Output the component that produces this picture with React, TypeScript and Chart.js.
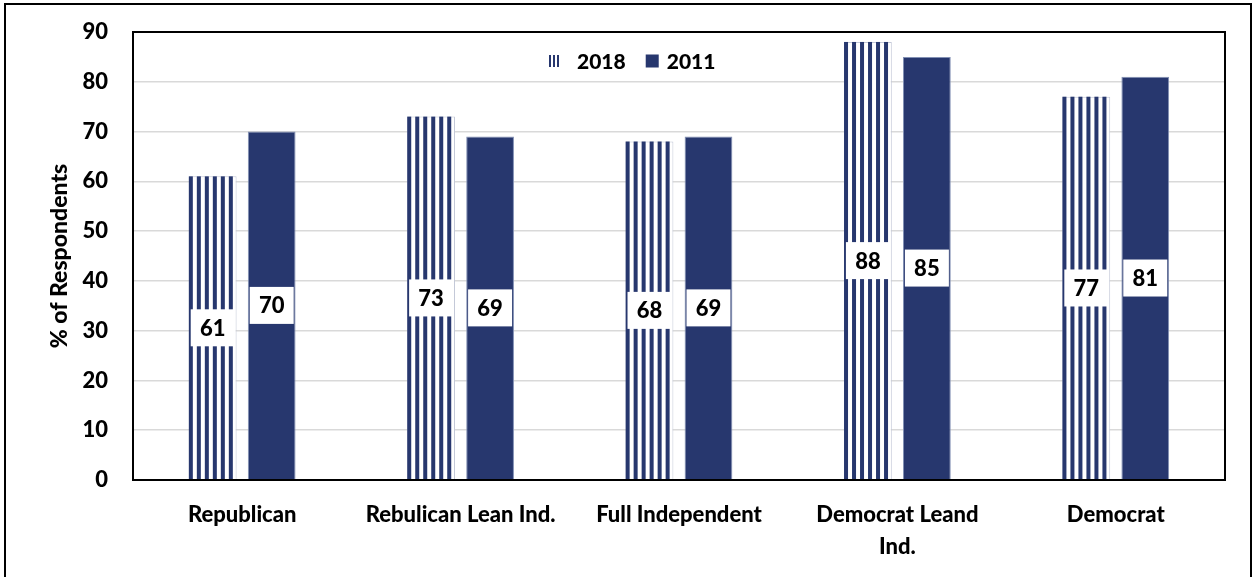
import React, { useEffect, useRef } from "react";
import { Chart, registerables } from "chart.js";

Chart.register(...registerables);

const categories: (string | string[])[] = [
  "Republican",
  "Rebulican Lean Ind.",
  "Full Independent",
  ["Democrat Leand", "Ind."],
  "Democrat",
];
const series2018: number[] = [61, 73, 68, 88, 77];
const series2011: number[] = [70, 69, 69, 85, 81];
const seriesNames: string[] = ["2018", "2011"];
const yTicks = { min: 0, max: 90, step: 10 };
const yTitle = "% of Respondents";

const NAVY = "#27376E";
const FONT = "Lato, 'Open Sans', sans-serif";
const W = 900;

const stripesAndLabels = {
  id: "stripesAndLabels",
  afterDatasetsDraw(chart: any) {
    const ctx = chart.ctx;
    ctx.save();
    const meta0 = chart.getDatasetMeta(0);
    meta0.data.forEach((el: any) => {
      const { x, y, base, width } = el.getProps(["x", "y", "base", "width"], true);
      const left = x - width / 2;
      const right = x + width / 2;
      ctx.fillStyle = NAVY;
      for (let sx = left; sx < right - 0.5; sx += 8) {
        ctx.fillRect(sx, y, Math.min(4, right - sx), base - y);
      }
    });
    chart.data.datasets.forEach((ds: any, di: number) => {
      const meta = chart.getDatasetMeta(di);
      meta.data.forEach((el: any, i: number) => {
        const { x, y, base } = el.getProps(["x", "y", "base"], true);
        const cy = (y + base) / 2;
        const bw = 44;
        const bh = 37;
        ctx.fillStyle = "#ffffff";
        ctx.fillRect(x - bw / 2, cy - bh / 2, bw, bh);
        ctx.fillStyle = "#000000";
        ctx.font = `${W} 22px ${FONT}`;
        ctx.textAlign = "center";
        ctx.textBaseline = "middle";
        ctx.fillText(String(ds.data[i]), x, cy + 1);
      });
    });
    ctx.restore();
  },
  afterDraw(chart: any) {
    const ctx = chart.ctx;
    const { left, top, right, bottom } = chart.chartArea;
    ctx.save();
    ctx.strokeStyle = "#000000";
    ctx.lineWidth = 2;
    ctx.strokeRect(left, top, right - left, bottom - top);
    const ly = top + 29;
    let lx = left + 416;
    ctx.fillStyle = NAVY;
    for (let k = 0; k < 3; k++) ctx.fillRect(lx + k * 4, ly - 6, 2, 12);
    lx += 12 + 16;
    ctx.font = `${W} 21px ${FONT}`;
    ctx.textAlign = "left";
    ctx.textBaseline = "middle";
    ctx.fillStyle = "#000000";
    ctx.fillText(seriesNames[0], lx, ly + 1);
    lx += ctx.measureText(seriesNames[0]).width + 20;
    ctx.fillStyle = NAVY;
    ctx.fillRect(lx, ly - 6.5, 13, 13);
    lx += 13 + 8;
    ctx.fillStyle = "#000000";
    ctx.fillText(seriesNames[1], lx, ly + 1);
    ctx.restore();
  },
};

export default function App() {
  const ref = useRef<HTMLCanvasElement | null>(null);

  useEffect(() => {
    if (!ref.current) return;
    const chart = new Chart(ref.current, {
      type: "bar",
      data: {
        labels: categories,
        datasets: [
          {
            label: seriesNames[0],
            data: series2018,
            backgroundColor: "#ffffff",
            borderColor: "#c4c9d8",
            borderWidth: 1,
            categoryPercentage: 0.54,
            barPercentage: 0.81,
          },
          {
            label: seriesNames[1],
            data: series2011,
            backgroundColor: NAVY,
            borderColor: "#8290b4",
            borderWidth: 1,
            categoryPercentage: 0.54,
            barPercentage: 0.81,
          },
        ],
      },
      options: {
        responsive: false,
        animation: false,
        layout: { padding: { left: 0, right: 29, top: 32, bottom: 0 } },
        plugins: {
          legend: { display: false },
          tooltip: { enabled: false },
        },
        scales: {
          x: {
            grid: { display: false, drawTicks: false },
            border: { display: true, color: "#000000", width: 2 },
            ticks: {
              color: "#000000",
              font: { family: FONT, size: 22, weight: W as any, lineHeight: 1.45 },
              padding: 19,
              maxRotation: 0,
              minRotation: 0,
              autoSkip: false,
            },
            afterFit: (s: any) => {
              s.height = 97;
              s.paddingLeft = 0;
              s.paddingRight = 0;
            },
          },
          y: {
            min: yTicks.min,
            max: yTicks.max,
            ticks: {
              stepSize: yTicks.step,
              color: "#000000",
              font: { family: FONT, size: 22, weight: W as any },
              padding: 25,
            },
            grid: { color: "#d9d9d9", lineWidth: 1.5, drawTicks: false },
            border: { display: true, color: "#000000", width: 2 },
            title: {
              display: true,
              text: yTitle,
              color: "#000000",
              font: { family: FONT, size: 23, weight: W as any, lineHeight: 1.2 },
              padding: { top: 46, bottom: 0 },
            },
            afterFit: (s: any) => {
              s.width = 133;
              s.paddingTop = 0;
              s.paddingBottom = 0;
            },
          },
        },
      },
      plugins: [stripesAndLabels],
    });
    return () => chart.destroy();
  }, []);

  return (
    <div style={{ position: "fixed", left: 0, top: 0, width: 1254, height: 577, background: "#ffffff" }}>
      <canvas ref={ref} width={1254} height={577} style={{ width: 1254, height: 577, display: "block" }} />
      <div
        style={{
          position: "absolute",
          left: 4,
          top: 3,
          width: 1248,
          height: 590,
          border: "2px solid #000000",
          boxSizing: "border-box",
          pointerEvents: "none",
        }}
      />
    </div>
  );
}
